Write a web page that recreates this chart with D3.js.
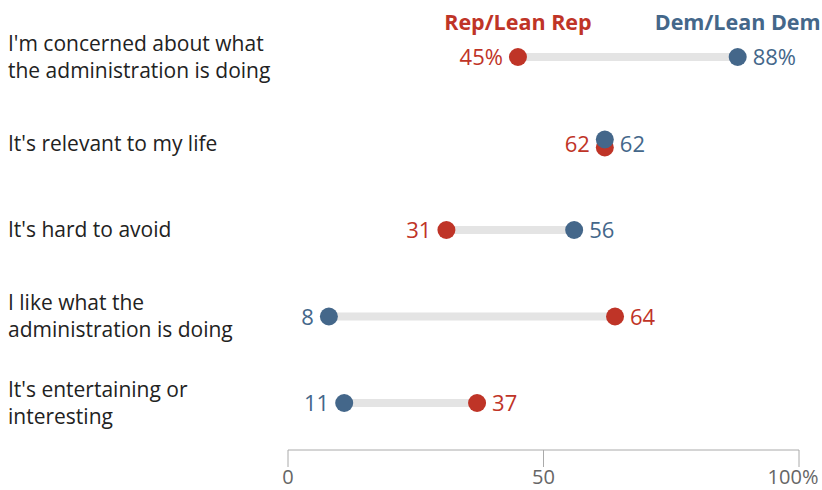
<!DOCTYPE html>
<html><head><meta charset="utf-8">
<script src="https://cdn.jsdelivr.net/npm/d3@7"></script>
<style>body{margin:0;background:#fff}svg{display:block}</style>
</head><body><svg id="c" width="822" height="490"></svg>
<script>
const categories = [
  ["I'm concerned about what", "the administration is doing"],
  ["It's relevant to my life"],
  ["It's hard to avoid"],
  ["I like what the", "administration is doing"],
  ["It's entertaining or", "interesting"]
];
const repValues = [45, 62, 31, 64, 37];
const demValues = [88, 62, 56, 8, 11];
const xTicks = [0, 50, 100];
const tickLabels = ["0", "50", "100%"];
const seriesNames = ["Rep/Lean Rep", "Dem/Lean Dem"];

const RED = "#bf3427", BLUE = "#44678a";
const svg = d3.select("#c");
const font = "'Open Sans', 'Liberation Sans', sans-serif";
const x = d3.scaleLinear().domain([0, 100]).range([288, 799]);
const y = d3.scalePoint().domain(d3.range(categories.length)).range([57, 403]);

// axis
const ax = svg.append("g").attr("transform", "translate(0,450)");
ax.append("line").attr("x1", x(0)).attr("x2", x(100)).attr("stroke", "#aaa");
ax.selectAll("line.t").data(xTicks).join("line").attr("class","t")
  .attr("x1", d => x(d)).attr("x2", d => x(d)).attr("y1", 0).attr("y2", 17).attr("stroke", "#aaa");
ax.selectAll("text").data(xTicks).join("text")
  .attr("x", (d,i) => x(d) + (i === 2 ? -6 : 0)).attr("y", 34)
  .attr("text-anchor", "middle")
  .attr("font-family", font).attr("font-size", 20)
  .attr("fill", "#666").text((d,i) => tickLabels[i]);

// category labels
categories.forEach((lines, i) => {
  const t = svg.append("text").attr("font-family", font).attr("font-size", 21).attr("fill", "#222");
  const n = lines.length;
  lines.forEach((l, j) => {
    t.append("tspan").attr("x", 8).attr("y", y(i) + (j - (n - 1) / 2) * 27 + 7).text(l);
  });
});

// rows
categories.forEach((c, i) => {
  const r = repValues[i], d = demValues[i];
  const cy = y(i);
  svg.append("line").attr("x1", x(Math.min(r,d))).attr("x2", x(Math.max(r,d)))
    .attr("y1", cy).attr("y2", cy).attr("stroke", "#e4e4e4").attr("stroke-width", 8);
  const same = r === d;
  const pts = [
    {v: d, col: BLUE, dy: same ? -4 : 0, side: same ? 1 : (d >= r ? 1 : -1)},
    {v: r, col: RED, dy: same ? 4 : 0, side: same ? -1 : (r > d ? 1 : -1)}
  ];
  const order = same ? [pts[1], pts[0]] : pts;
  order.forEach(p => {
    svg.append("circle").attr("cx", x(p.v)).attr("cy", cy + p.dy).attr("r", 9).attr("fill", p.col);
  });
  pts.forEach(p => {
    const suffix = i === 0 ? "%" : "";
    svg.append("text").attr("x", x(p.v) + p.side * 15).attr("y", cy + 8)
      .attr("text-anchor", p.side > 0 ? "start" : "end")
      .attr("font-family", font).attr("font-size", 22).attr("fill", p.col)
      .text(p.v + suffix);
  });
});

// legend
svg.append("text").attr("x", x(repValues[0])).attr("y", 30).attr("text-anchor", "middle")
  .attr("font-family", font).attr("font-weight", "bold").attr("font-size", 21.5).attr("fill", RED).text(seriesNames[0]);
svg.append("text").attr("x", x(demValues[0])).attr("y", 30).attr("text-anchor", "middle")
  .attr("font-family", font).attr("font-weight", "bold").attr("font-size", 21.5).attr("fill", BLUE).text(seriesNames[1]);
</script></body></html>
